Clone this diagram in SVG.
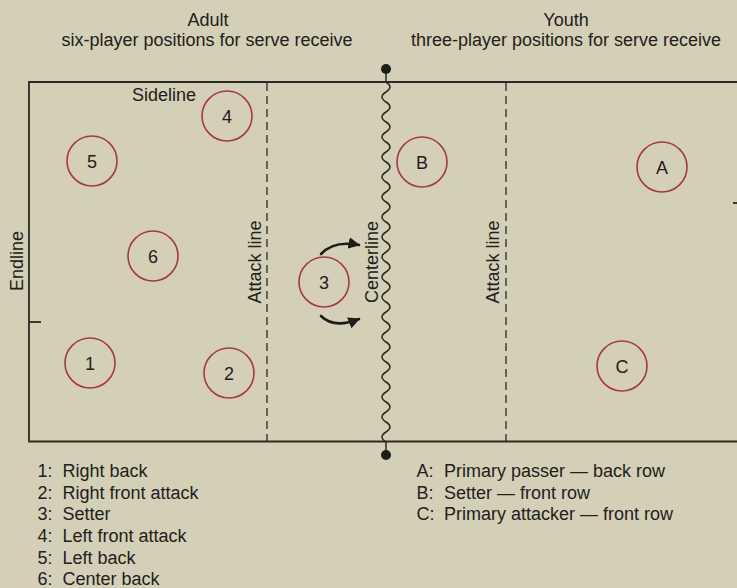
<svg xmlns="http://www.w3.org/2000/svg" width="737" height="588" viewBox="0 0 737 588">
  <defs>
    <style>
      text { font-family: "Liberation Sans", Arial, sans-serif; font-size: 18px; fill: #222018; }
      .mid { text-anchor: middle; }
      .court { stroke: #2a2a22; stroke-width: 1.8; fill: none; }
      .attack { stroke: #2a2a22; stroke-width: 1.3; stroke-dasharray: 8 5; fill: none; }
      .player circle { fill: none; stroke: #a8354d; stroke-width: 1.6; }
      .move { stroke: #1e1e18; stroke-width: 2.6; fill: none; stroke-linecap: round; }
    </style>
    <marker id="head" viewBox="0 0 10 10" refX="9" refY="5" markerWidth="4.5" markerHeight="4.5" orient="auto" markerUnits="strokeWidth">
      <path d="M0,0 L10,5 L0,10 Z" fill="#1e1e18"/>
    </marker>
  </defs>

  <rect width="737" height="588" fill="#d4d0b8"/>

  <!-- headings -->
  <g id="titles">
    <text class="mid" x="208" y="26">Adult</text>
    <text class="mid" x="207" y="46">six-player positions for serve receive</text>
    <text class="mid" x="566" y="26">Youth</text>
    <text class="mid" x="566" y="46">three-player positions for serve receive</text>
  </g>

  <!-- court outline, lines and markings -->
  <g id="court">
    <path class="court" d="M737,82 H29 V441.5 H737"/>
    <path class="court" d="M29,322 H41"/>
    <path class="court" d="M733,203 H737"/>
    <line class="attack" x1="267" y1="83" x2="267" y2="441"/>
    <line class="attack" x1="506" y1="83" x2="506" y2="441"/>
    <path d="M386,82 q8,5 0,10 q-8,5 0,10 q8,5 0,10 q-8,5 0,10 q8,5 0,10 q-8,5 0,10 q8,5 0,10 q-8,5 0,10 q8,5 0,10 q-8,5 0,10 q8,5 0,10 q-8,5 0,10 q8,5 0,10 q-8,5 0,10 q8,5 0,10 q-8,5 0,10 q8,5 0,10 q-8,5 0,10 q8,5 0,10 q-8,5 0,10 q8,5 0,10 q-8,5 0,10 q8,5 0,10 q-8,5 0,10 q8,5 0,10 q-8,5 0,10 q8,5 0,10 q-8,5 0,10 q8,5 0,10 q-8,5 0,10 q8,5 0,10 q-8,5 0,10 q8,5 0,10 q-8,5 0,10 q8,5 0,10 q-8,5 0,10" fill="none" stroke="#2a2a22" stroke-width="1.5"/>
    <line x1="386" y1="70" x2="386" y2="82" stroke="#2a2a22" stroke-width="1.5"/>
    <line x1="386" y1="442" x2="386" y2="455" stroke="#2a2a22" stroke-width="1.5"/>
    <circle cx="386" cy="69" r="5" fill="#1e1e18"/>
    <circle cx="386" cy="455" r="5" fill="#1e1e18"/>
    <text x="132" y="101">Sideline</text>
    <text class="mid" transform="translate(23,261) rotate(-90)">Endline</text>
    <text class="mid" transform="translate(261,262) rotate(-90)">Attack line</text>
    <text class="mid" transform="translate(378,262) rotate(-90)">Centerline</text>
    <text class="mid" transform="translate(499,262) rotate(-90)">Attack line</text>
  </g>

  <!-- adult players -->
  <g id="p1" class="player"><circle cx="90" cy="363" r="25"/><text class="mid" x="90" y="370">1</text></g>
  <g id="p2" class="player"><circle cx="229" cy="373" r="25"/><text class="mid" x="229" y="380">2</text></g>
  <g id="p3" class="player"><circle cx="324" cy="282" r="25"/><text class="mid" x="324" y="289">3</text></g>
  <g id="p4" class="player"><circle cx="227" cy="116" r="25"/><text class="mid" x="227" y="123">4</text></g>
  <g id="p5" class="player"><circle cx="92" cy="161" r="25"/><text class="mid" x="92" y="168">5</text></g>
  <g id="p6" class="player"><circle cx="153" cy="256" r="25"/><text class="mid" x="153" y="263">6</text></g>

  <!-- youth players -->
  <g id="pA" class="player"><circle cx="662" cy="167" r="25"/><text class="mid" x="662" y="174">A</text></g>
  <g id="pB" class="player"><circle cx="422" cy="162" r="25"/><text class="mid" x="422" y="169">B</text></g>
  <g id="pC" class="player"><circle cx="622" cy="366" r="25"/><text class="mid" x="622" y="373">C</text></g>

  <!-- setter movement arrows -->
  <g id="connectors">
    <path class="move" d="M321,254 Q334,240 359,245" marker-end="url(#head)"/>
    <path class="move" d="M321,316 Q334,329 359,319" marker-end="url(#head)"/>
  </g>

  <!-- keys -->
  <g id="legend-adult">
    <text x="37.5" y="477">1:<tspan x="62.5">Right back</tspan></text>
    <text x="37.5" y="498.5">2:<tspan x="62.5">Right front attack</tspan></text>
    <text x="37.5" y="520">3:<tspan x="62.5">Setter</tspan></text>
    <text x="37.5" y="542">4:<tspan x="62.5">Left front attack</tspan></text>
    <text x="37.5" y="563.5">5:<tspan x="62.5">Left back</tspan></text>
    <text x="37.5" y="585">6:<tspan x="62.5">Center back</tspan></text>
  </g>
  <g id="legend-youth">
    <text x="416.5" y="477">A:<tspan x="444">Primary passer — back row</tspan></text>
    <text x="416.5" y="498.5">B:<tspan x="444">Setter — front row</tspan></text>
    <text x="416.5" y="520">C:<tspan x="444">Primary attacker — front row</tspan></text>
  </g>
</svg>
